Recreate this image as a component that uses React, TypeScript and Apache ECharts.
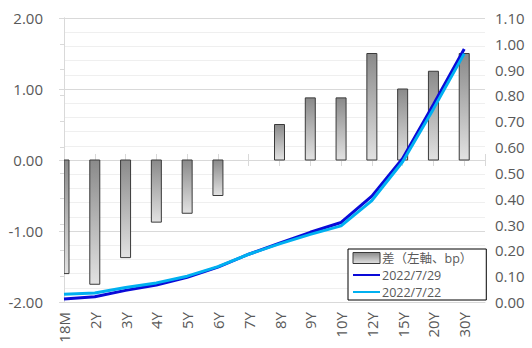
import React, { useEffect, useRef } from "react";
import * as echarts from "echarts";

const categories = ["18M", "2Y", "3Y", "4Y", "5Y", "6Y", "7Y", "8Y", "9Y", "10Y", "12Y", "15Y", "20Y", "30Y"];
const diffBp = [-1.6, -1.75, -1.375, -0.875, -0.75, -0.5, 0, 0.5, 0.875, 0.875, 1.5, 1.0, 1.25, 1.5];
const yield0729 = [0.012, 0.02, 0.045, 0.066, 0.096, 0.135, 0.185, 0.228, 0.27, 0.308, 0.41, 0.556, 0.765, 0.98];
const yield0722 = [0.03, 0.035, 0.056, 0.074, 0.1, 0.137, 0.185, 0.225, 0.262, 0.295, 0.393, 0.543, 0.748, 0.962];
const seriesNames = ["差（左軸、bp）", "2022/7/29", "2022/7/22"];

const FONT = "'Open Sans', 'Noto Sans CJK JP', sans-serif";
const TEXT = "#595959";
const GRID = "#d9d9d9";
const X_MAX = 13.675;
const BAR_W = 10;

const barGradient = () =>
  new echarts.graphic.LinearGradient(0, 0, 0, 1, [
    { offset: 0, color: "#8a8a8a" },
    { offset: 1, color: "#e2e2e2" },
  ]);

export default function App() {
  const ref = useRef<HTMLDivElement>(null);
  useEffect(() => {
    document.body.style.margin = "0";
    const chart = echarts.init(ref.current!, null, { renderer: "svg" });
    const xBase = {
      type: "value" as const,
      min: 0,
      max: X_MAX,
      interval: 1,
      splitLine: { show: false },
    };
    chart.setOption({
      animation: false,
      textStyle: { fontFamily: FONT },
      grid: { left: 64, right: 47, top: 18, bottom: 46 },
      legend: {
        orient: "vertical",
        left: 348,
        top: 249,
        backgroundColor: "#fff",
        borderColor: "#000",
        borderWidth: 1,
        borderRadius: 0,
        padding: [2, 14, 1, 4],
        itemGap: 3,
        itemWidth: 27,
        itemHeight: 11,
        textStyle: { fontSize: 12.5, lineHeight: 14, color: TEXT, fontFamily: FONT, padding: [0, 0, 0, -3] },
        data: [
          {
            name: seriesNames[0],
            icon: "rect",
            itemStyle: { color: barGradient(), borderColor: "#3a3a3a", borderWidth: 1 },
          },
          { name: seriesNames[1], itemStyle: { opacity: 0 } },
          { name: seriesNames[2], itemStyle: { opacity: 0 } },
        ],
      },
      xAxis: [
        {
          ...xBase,
          position: "bottom",
          axisLine: { show: true, onZero: false, lineStyle: { color: GRID } },
          axisTick: { show: false },
          axisLabel: {
            rotate: 90,
            fontSize: 15,
            color: TEXT,
            fontFamily: FONT,
            margin: 10,
            formatter: (v: number) => (Number.isInteger(v) && categories[v] ? categories[v] : ""),
          },
        },
        {
          ...xBase,
          axisLine: { show: false, onZero: true, onZeroAxisIndex: 0 },
          axisTick: { show: true, inside: true, length: 6, lineStyle: { color: GRID } },
          axisLabel: { show: false },
        },
        {
          ...xBase,
          axisLine: { show: false, onZero: true, onZeroAxisIndex: 0 },
          axisTick: { show: true, inside: false, length: 6, lineStyle: { color: GRID } },
          axisLabel: { show: false },
        },
      ],
      yAxis: [
        {
          type: "value",
          min: -2,
          max: 2,
          interval: 1,
          axisLine: { show: true, lineStyle: { color: GRID } },
          axisTick: { show: true, length: 5, lineStyle: { color: GRID } },
          axisLabel: {
            fontSize: 15,
            color: TEXT,
            fontFamily: FONT,
            margin: 21,
            formatter: (v: number) => v.toFixed(2),
          },
          splitLine: { show: true, lineStyle: { color: GRID } },
          minorTick: { show: false, splitNumber: 5 },
          minorSplitLine: { show: true, lineStyle: { color: "#efefef" } },
        },
        {
          type: "value",
          position: "right",
          min: 0,
          max: 1.1,
          interval: 0.1,
          axisLine: { show: true, lineStyle: { color: GRID } },
          axisTick: { show: true, inside: true, length: 4, lineStyle: { color: GRID } },
          axisLabel: {
            fontSize: 15,
            color: TEXT,
            fontFamily: FONT,
            margin: 10,
            formatter: (v: number) => v.toFixed(2),
          },
          splitLine: { show: false },
        },
      ],
      series: [
        {
          name: seriesNames[0],
          type: "custom",
          xAxisIndex: 0,
          yAxisIndex: 0,
          clip: true,
          data: diffBp.map((v, i) => [i, v]),
          itemStyle: { color: barGradient(), borderColor: "#3a3a3a", borderWidth: 1 },
          renderItem: (params: any, api: any) => {
            const x = api.value(0);
            const v = api.value(1);
            if (!v) return null;
            const p0 = api.coord([x, 0]);
            const p1 = api.coord([x, v]);
            const cs = params.coordSys;
            const shape = echarts.graphic.clipRectByRect(
              {
                x: p0[0] - BAR_W / 2,
                y: Math.min(p0[1], p1[1]),
                width: BAR_W,
                height: Math.abs(p1[1] - p0[1]),
              },
              { x: cs.x, y: cs.y, width: cs.width, height: cs.height }
            );
            if (!shape) return null;
            return {
              type: "rect",
              shape,
              style: { fill: barGradient(), stroke: "#3a3a3a", lineWidth: 1 },
            };
          },
        },
        {
          name: seriesNames[1],
          type: "line",
          xAxisIndex: 0,
          yAxisIndex: 1,
          symbol: "none",
          data: yield0729.map((v, i) => [i, v]),
          lineStyle: { color: "#0a0ad8", width: 3 },
          itemStyle: { color: "#0a0ad8" },
        },
        {
          name: seriesNames[2],
          type: "line",
          xAxisIndex: 0,
          yAxisIndex: 1,
          symbol: "none",
          data: yield0722.map((v, i) => [i, v]),
          lineStyle: { color: "#00b0f0", width: 3 },
          itemStyle: { color: "#00b0f0" },
        },
      ],
    });
    return () => chart.dispose();
  }, []);
  return <div ref={ref} style={{ width: 532, height: 348 }} />;
}
